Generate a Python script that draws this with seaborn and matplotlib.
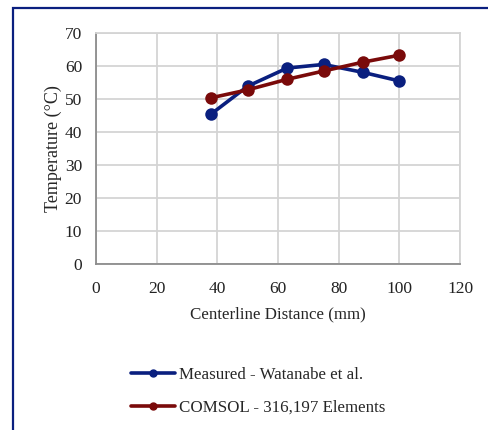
import matplotlib
matplotlib.use('Agg')
import matplotlib.pyplot as plt
import numpy as np
import pandas as pd
import seaborn as sns
from matplotlib.lines import Line2D
from matplotlib.patches import Rectangle

# values
distance = [38, 50, 63, 75, 88, 100]
measured = [45.5, 53.9, 59.4, 60.5, 58.1, 55.5]
comsol = [50.4, 52.8, 56.0, 58.5, 61.2, 63.3]
series_names = ['Measured - Watanabe et al.', 'COMSOL - 316,197 Elements']
x_ticks = [0, 20, 40, 60, 80, 100, 120]
y_ticks = [0, 10, 20, 30, 40, 50, 60, 70]

blue = '#0a1f7f'
red = '#7a0a0a'

df = pd.DataFrame({
    'distance': distance * 2,
    'temp': measured + comsol,
    'series': [series_names[0]] * len(distance) + [series_names[1]] * len(distance),
})

sns.set_style('white')
plt.rcParams['font.family'] = ['Liberation Serif', 'DejaVu Serif']

fig = plt.figure(figsize=(4.88, 4.30), dpi=100)
ax = fig.add_axes([0.1967, 0.386, 0.746, 0.537])

sns.lineplot(data=df, x='distance', y='temp', hue='series',
             palette=[blue, red], marker='o', markersize=9, linewidth=2.6,
             markeredgewidth=0, ax=ax, legend=False, zorder=3)

ax.set_xlim(0, 120)
ax.set_ylim(0, 70)
ax.set_xticks(x_ticks)
ax.set_yticks(y_ticks)
ax.tick_params(axis='both', labelsize=12.5, length=0, colors='#222222')
ax.tick_params(axis='x', pad=12)
ax.tick_params(axis='y', pad=10)
ax.grid(True, color='#d4d4d4', linewidth=1.3)
ax.set_axisbelow(True)
for side in ['top', 'right']:
    ax.spines[side].set_color('#d4d4d4')
    ax.spines[side].set_linewidth(1.3)
for side in ['left', 'bottom']:
    ax.spines[side].set_color('#8c8c8c')
    ax.spines[side].set_linewidth(1.3)

ax.set_xlabel('Centerline Distance (mm)', fontsize=12.2, labelpad=7)
ax.set_ylabel('Temperature (°C)', fontsize=13, labelpad=2)

handles = [Line2D([], [], color=c, linewidth=2.6, marker='o', markersize=5)
           for c in [blue, red]]
fig.legend(handles, series_names, loc='upper left', bbox_to_anchor=(0.255, 0.163),
           frameon=False, fontsize=12.2, handlelength=2.6, handletextpad=0.2,
           labelspacing=1.0, borderaxespad=0)

# outer frame of the pasted figure
fig.patches.append(Rectangle((13 / 488, -0.05), 1.2, 1 - 8 / 430 + 0.05,
                             transform=fig.transFigure, fill=False,
                             edgecolor='#0a1f7f', linewidth=1.6))

fig.savefig('out.png', dpi=100)
